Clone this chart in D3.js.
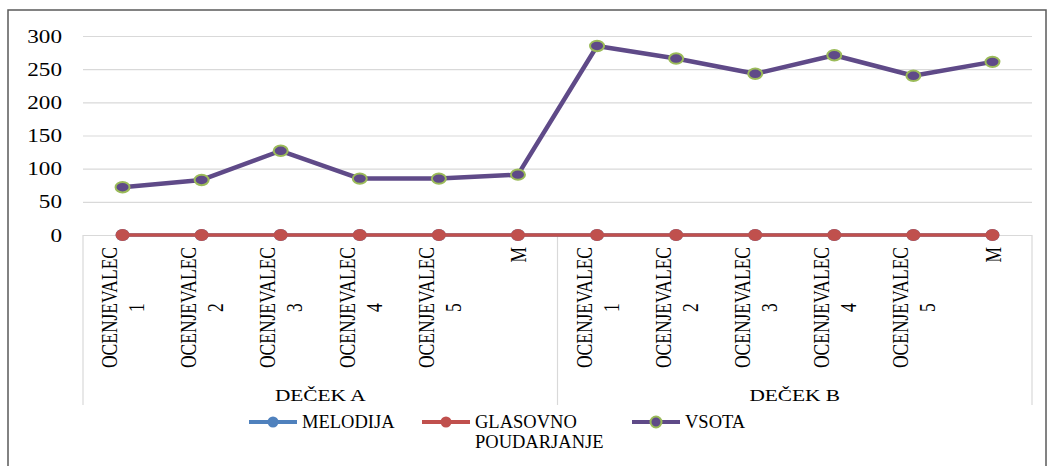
<!DOCTYPE html>
<html>
<head>
<meta charset="utf-8">
<script src="https://cdn.jsdelivr.net/npm/d3@7"></script>
<style>
  html, body { margin: 0; padding: 0; background: #fff; }
  svg { display: block; }
  text { font-family: "Liberation Serif", "Times New Roman", serif; fill: #000; }
</style>
</head>
<body>
<svg id="chart" width="1052" height="466"></svg>
<script>
// Groups and raters along the two-level category axis
const groups = ["DEČEK A", "DEČEK B"];
const raters = [["OCENJEVALEC", "1"], ["OCENJEVALEC", "2"], ["OCENJEVALEC", "3"],
                ["OCENJEVALEC", "4"], ["OCENJEVALEC", "5"], ["M"]];

// Series values, one per (group, rater) in order
const melodija  = [0, 0, 0, 0, 0, 0, 0, 0, 0, 0, 0, 0];
const glasovno  = [0, 0, 0, 0, 0, 0, 0, 0, 0, 0, 0, 0];
const vsota     = [72, 83, 127, 85, 85, 91, 285, 266, 243, 271, 240, 261];

const yTicks = [0, 50, 100, 150, 200, 250, 300];

const seriesNames = ["MELODIJA", "GLASOVNO\nPOUDARJANJE", "VSOTA"];

// ---- layout ----
const W = 1052, H = 466;
const plot = { left: 83, right: 1032, top: 36, bottom: 235 };
const axisBoxBottom = 405;
const serif = "Liberation Serif";

const svg = d3.select("#chart");
svg.append("rect").attr("width", W).attr("height", H).attr("fill", "#fff");

// outer chart frame
svg.append("rect")
  .attr("x", 8).attr("y", 10).attr("width", 1038).attr("height", 480)
  .attr("fill", "none").attr("stroke", "#5a5a5a").attr("stroke-width", 1.5);

const keys = [];
groups.forEach((g, gi) => raters.forEach((r, ri) => keys.push(gi + "|" + ri)));

const x = d3.scaleBand().domain(keys).range([plot.left, plot.right]);
const y = d3.scaleLinear().domain([0, 300]).range([plot.bottom, plot.top]);
const cx = i => x(keys[i]) + x.bandwidth() / 2;

// horizontal gridlines
const grid = svg.append("g")
  .attr("transform", `translate(${plot.left},0)`)
  .call(d3.axisLeft(y).tickValues(yTicks).tickSize(-(plot.right - plot.left)).tickFormat(""));
grid.select(".domain").remove();
grid.selectAll(".tick line").attr("stroke", "#d9d9d9").attr("stroke-width", 1.2);

// y tick labels
svg.append("g").selectAll("text").data(yTicks).join("text")
  .attr("transform", d => `translate(62,${y(d) + 6.5}) scale(1.22,1)`)
  .attr("text-anchor", "end")
  .attr("font-size", 19)
  .text(d => d);

// category axis box: vertical dividers below the baseline
const dividers = [plot.left, x(keys[raters.length]), plot.right];
svg.append("g").selectAll("line").data(dividers).join("line")
  .attr("x1", d => d).attr("x2", d => d)
  .attr("y1", plot.bottom).attr("y2", axisBoxBottom)
  .attr("stroke", "#d9d9d9").attr("stroke-width", 1.2);

// rater labels, rotated, block anchored under the axis
const labelTop = 247;
const catG = svg.append("g");
keys.forEach((k, i) => {
  const lines = raters[i % raters.length];
  const g = catG.append("g")
    .attr("transform", `translate(${cx(i)},${labelTop}) rotate(-90) scale(1,1.35)`);
  const texts = lines.map((ln, j) => g.append("text")
    .attr("font-size", 17.5)
    .attr("text-anchor", "middle")
    .attr("y", (j - (lines.length - 1) / 2) * 20)
    .attr("dy", "0.35em")
    .text(ln));
  const maxLen = d3.max(texts, t => t.node().getComputedTextLength());
  texts.forEach(t => t.attr("x", -maxLen / 2));
});

// group labels
svg.append("g").selectAll("text").data(groups).join("text")
  .attr("transform", (d, gi) => {
    const a = x(keys[gi * raters.length]);
    const b = x(keys[(gi + 1) * raters.length - 1]) + x.bandwidth();
    return `translate(${(a + b) / 2},401) scale(1.22,1)`;
  })
  .attr("text-anchor", "middle")
  .attr("font-size", 17.5)
  .text(d => d);

// series
const colors = { blue: "#4f81bd", red: "#c0504d", purple: "#5f4a88", green: "#9bbb59" };
const line = d3.line().x((d, i) => cx(i)).y(d => y(d));

const series = [
  { values: melodija, stroke: colors.blue, width: 3.5, fill: colors.blue, mstroke: "none", rx: 7, ry: 6 },
  { values: glasovno, stroke: colors.red, width: 3.5, fill: colors.red, mstroke: "none", rx: 7, ry: 6 },
  { values: vsota, stroke: colors.purple, width: 4.5, fill: colors.purple, mstroke: colors.green, rx: 7, ry: 5.2 }
];

series.forEach(s => {
  svg.append("path").datum(s.values)
    .attr("d", line)
    .attr("fill", "none")
    .attr("stroke", s.stroke)
    .attr("stroke-width", s.width)
    .attr("stroke-linejoin", "round");
  svg.append("g").selectAll("ellipse").data(s.values).join("ellipse")
    .attr("cx", (d, i) => cx(i)).attr("cy", d => y(d))
    .attr("rx", s.rx).attr("ry", s.ry)
    .attr("fill", s.fill)
    .attr("stroke", s.mstroke)
    .attr("stroke-width", 2);
});

// legend
const legendX = [249, 422, 632];
const legendY = 422;
const leg = svg.append("g");
series.forEach((s, i) => {
  const g = leg.append("g").attr("transform", `translate(${legendX[i]},${legendY})`);
  g.append("line").attr("x1", 0).attr("x2", 48).attr("y1", 0).attr("y2", 0)
    .attr("stroke", s.stroke).attr("stroke-width", 4);
  g.append("ellipse").attr("cx", 24).attr("cy", 0).attr("rx", 5.5).attr("ry", 5.5)
    .attr("fill", s.fill).attr("stroke", s.mstroke).attr("stroke-width", 2);
  const t = g.append("text").attr("x", 53).attr("y", 5.5).attr("font-size", 18.5);
  seriesNames[i].split("\n").forEach((ln, j) => {
    t.append("tspan").attr("x", 53).attr("dy", j === 0 ? 0 : 20.5).text(ln);
  });
});
</script>
</body>
</html>
